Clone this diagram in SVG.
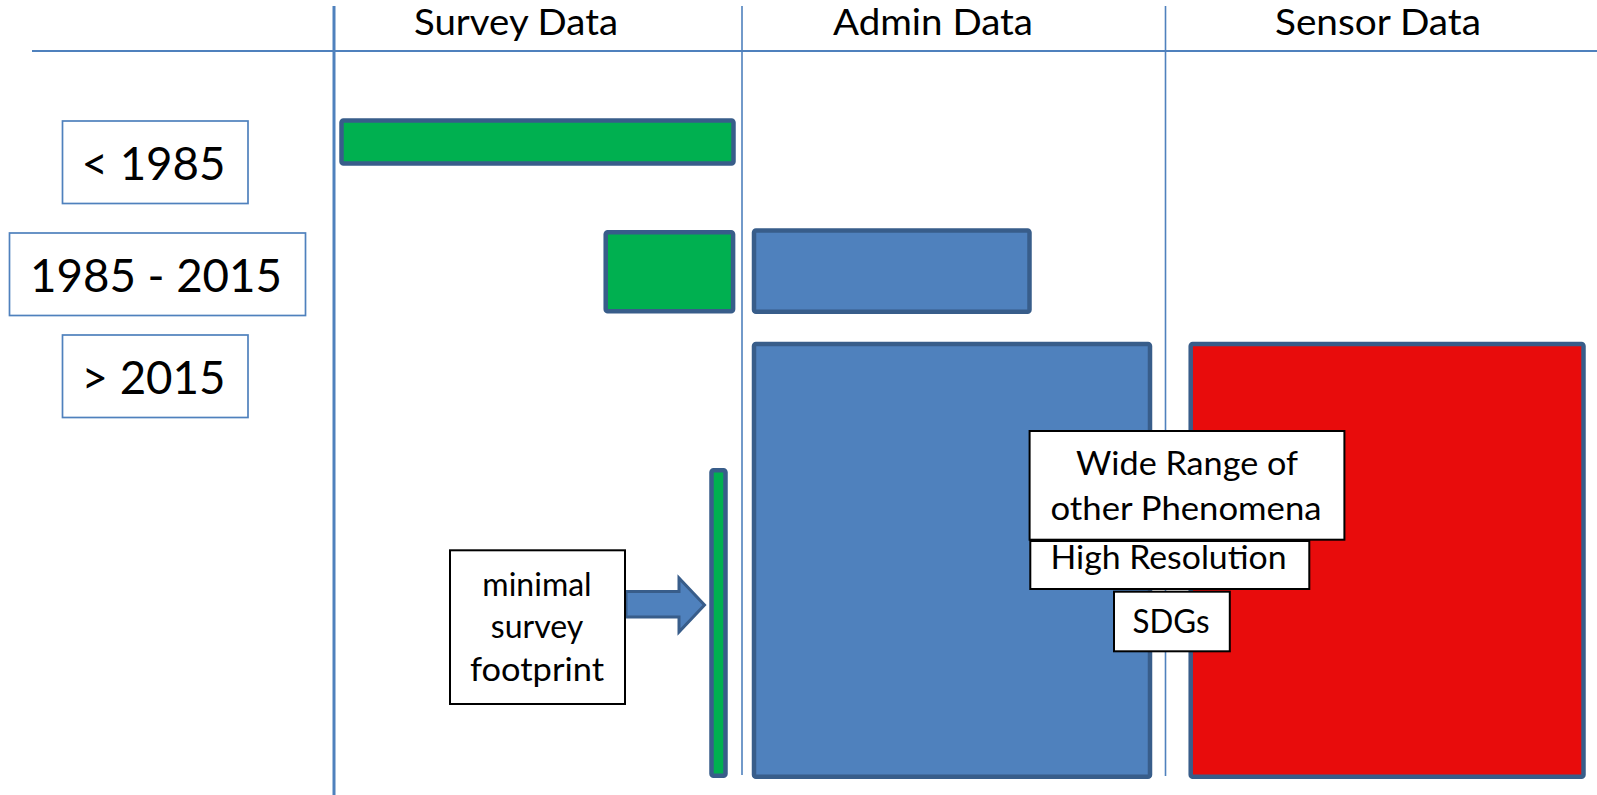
<svg xmlns="http://www.w3.org/2000/svg" width="1597" height="795" viewBox="0 0 1597 795">
<style>
.grid{stroke:#4f81bd;fill:none}
.bar{stroke:#385d8a;stroke-width:4.5}
.green{fill:#00b050}
.blue{fill:#4f81bd}
.red{fill:#e80c0c}
.year{fill:#fff;stroke:#4f81bd;stroke-width:1.7}
.lbl{fill:#fff;stroke:#000;stroke-width:2}
text{font-family:Lato,"Open Sans","Liberation Sans",sans-serif;fill:#000;text-anchor:middle}
.h{font-size:36px}
.y{font-size:46px}
.t{font-size:32px}
</style>
<rect width="1597" height="795" fill="#fff"/>
<g id="grid">
<line class="grid" x1="32" y1="51" x2="1597" y2="51" stroke-width="2"/>
<line class="grid" x1="334" y1="6" x2="334" y2="795" stroke-width="3"/>
<line class="grid" x1="742" y1="6" x2="742" y2="775" stroke-width="1.6"/>
<line class="grid" x1="1165.5" y1="6" x2="1165.5" y2="776" stroke-width="1.6"/>
</g>
<g id="headers">
<text class="h" x="516" y="35" textLength="204" lengthAdjust="spacingAndGlyphs">Survey Data</text>
<text class="h" x="933" y="35" textLength="200" lengthAdjust="spacingAndGlyphs">Admin Data</text>
<text class="h" x="1378" y="35" textLength="206" lengthAdjust="spacingAndGlyphs">Sensor Data</text>
</g>
<g id="year-lt1985">
<rect class="year" x="62.5" y="121" width="185.5" height="82.5"/>
<text class="y" x="153.5" y="179.5" textLength="144" lengthAdjust="spacingAndGlyphs">&lt; 1985</text>
</g>
<g id="year-1985-2015">
<rect class="year" x="9.5" y="233" width="296" height="82.5"/>
<text class="y" x="156" y="291.5" textLength="252" lengthAdjust="spacingAndGlyphs">1985 - 2015</text>
</g>
<g id="year-gt2015">
<rect class="year" x="62.5" y="335" width="185.5" height="82.5"/>
<text class="y" x="153.5" y="393.5" textLength="144" lengthAdjust="spacingAndGlyphs">&gt; 2015</text>
</g>
<g id="survey-lt1985"><rect class="bar green" x="341.5" y="120.5" width="392" height="43" rx="2"/></g>
<g id="survey-1985-2015"><rect class="bar green" x="605.7" y="232.2" width="127.4" height="79" rx="2"/></g>
<g id="survey-gt2015"><rect class="bar green" x="711.5" y="470.2" width="14" height="305.6" rx="2"/></g>
<g id="admin-1985-2015"><rect class="bar blue" x="754" y="230.5" width="275.5" height="81.3" rx="2"/></g>
<g id="admin-gt2015"><rect class="bar blue" x="754" y="344" width="396" height="432.8" rx="2"/></g>
<g id="sensor-gt2015"><rect class="bar red" x="1190.7" y="344" width="392.8" height="432.8" rx="2"/></g>
<g id="connectors">
<polygon points="626,591.5 679,591.5 679,578 704.5,605 679,632 679,617 626,617" fill="#4f81bd" stroke="#385d8a" stroke-width="3" stroke-linejoin="miter"/>
</g>
<g id="minimal-survey-footprint">
<rect class="lbl" x="450" y="550.3" width="175" height="153.7"/>
<text class="t" x="537" y="595.5">minimal</text>
<text class="t" x="537" y="638">survey</text>
<text class="t" x="537" y="680.5" textLength="134" lengthAdjust="spacingAndGlyphs">footprint</text>
</g>
<g id="sdgs">
<rect class="lbl" x="1114" y="591.7" width="115.8" height="59.6"/>
<text class="t" x="1171" y="632.5" textLength="77" lengthAdjust="spacingAndGlyphs">SDGs</text>
</g>
<g id="high-resolution">
<rect class="lbl" x="1030.3" y="541" width="279" height="48"/>
<text class="t" x="1168.5" y="569" textLength="236" lengthAdjust="spacingAndGlyphs">High Resolution</text>
</g>
<g id="wide-range">
<rect class="lbl" x="1029.6" y="431" width="314.8" height="108.7"/>
<text class="t" x="1187" y="474.5" textLength="222" lengthAdjust="spacingAndGlyphs">Wide Range of</text>
<text class="t" x="1186" y="520" textLength="271" lengthAdjust="spacingAndGlyphs">other Phenomena</text>
</g>
</svg>
